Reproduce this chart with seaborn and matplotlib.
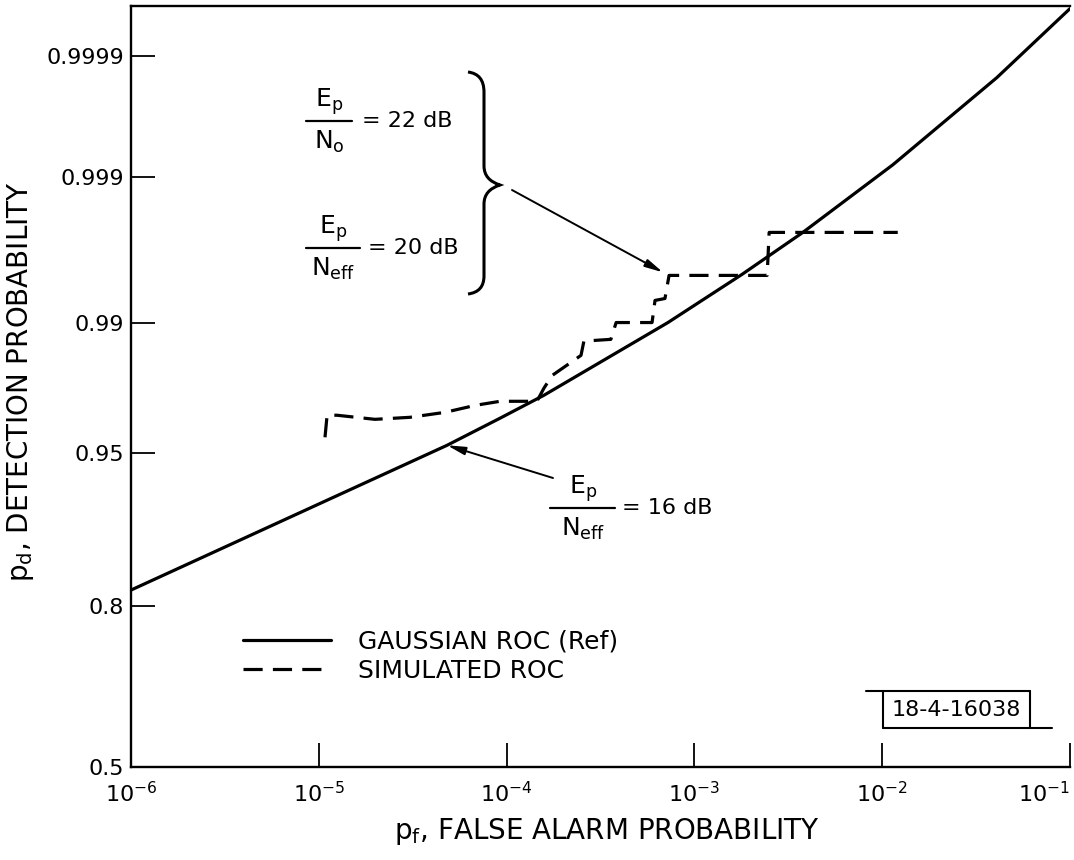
import numpy as np
import pandas as pd
import matplotlib
matplotlib.use("Agg")
import matplotlib.pyplot as plt
import seaborn as sns
from statistics import NormalDist
from matplotlib.path import Path
from matplotlib.patches import PathPatch
from matplotlib.lines import Line2D
from matplotlib.ticker import NullLocator

# ---------------- data ----------------
gauss_pf = [1.0e-6, 1.107e-5, 4.82e-5, 9.2e-5, 1.58e-4, 7.23e-4, 1.79e-3,
            3.78e-3, 1.14e-2, 4.08e-2, 1.0e-1]
gauss_pd = [0.8228, 0.9187, 0.9539, 0.9660, 0.97415, 0.9900, 0.99503,
            0.99743, 0.99919, 0.999846, 0.999964]

sim_pf = [1.079e-5, 1.107e-5, 1.25e-5, 1.99e-5, 3.06e-5, 4.70e-5, 6.79e-5,
          9.23e-5, 1.45e-4, 1.58e-4, 1.75e-4, 2.49e-4, 2.58e-4, 3.59e-4,
          3.83e-4, 5.95e-4, 6.17e-4, 6.97e-4, 7.33e-4, 2.44e-3, 2.50e-3, 1.21e-2]
sim_pd = [0.9578, 0.9672, 0.9672, 0.9656, 0.9664, 0.9683, 0.9708,
          0.9722, 0.9722, 0.9763, 0.9798, 0.9844, 0.9871, 0.9874,
          0.9900, 0.9900, 0.9927, 0.9929, 0.99496, 0.99496, 0.99743, 0.99743]

x_ticks = [1e-6, 1e-5, 1e-4, 1e-3, 1e-2, 1e-1]
x_tick_labels = [r'$10^{-6}$', r'$10^{-5}$', r'$10^{-4}$', r'$10^{-3}$',
                 r'$10^{-2}$', r'$10^{-1}$']
y_ticks = [0.5, 0.8, 0.95, 0.99, 0.999, 0.9999]
y_tick_labels = ['0.5', '0.8', '0.95', '0.99', '0.999', '0.9999']

legend_labels = ['GAUSSIAN ROC (Ref)', 'SIMULATED ROC']
x_label = r'$p_f$, FALSE ALARM PROBABILITY'
y_label = r'$p_d$, DETECTION PROBABILITY'
note_num = r'$E_p$'
note_den_22 = r'$N_o$'
note_den_eff = r'$N_{eff}$'
note_rhs = ['= 22 dB', '= 20 dB', '= 16 dB']
fig_id = '18-4-16038'

# ---------------- normal-probability scale ----------------
_nd = NormalDist()
_ppf = np.vectorize(_nd.inv_cdf, otypes=[float])
_cdf = np.vectorize(_nd.cdf, otypes=[float])


def prob_fwd(p):
    p = np.asarray(p, dtype=float)
    p = np.where(np.isfinite(p), p, 0.5)
    return _ppf(np.clip(p, 1e-12, 1 - 1e-12))


def prob_inv(z):
    z = np.asarray(z, dtype=float)
    z = np.where(np.isfinite(z), z, 0.0)
    return _cdf(z)


# ---------------- figure ----------------
sns.set_theme(style="white")
plt.rcParams['font.family'] = ['DejaVu Sans']
plt.rcParams['mathtext.fontset'] = 'dejavusans'
plt.rcParams['mathtext.default'] = 'regular'

W, H = 1074, 860
fig = plt.figure(figsize=(W / 100, H / 100), dpi=100)
fig.patch.set_facecolor('white')
ax = fig.add_axes([131 / W, 93 / H, 939 / W, 761 / H])
ax.set_facecolor('white')

sns.lineplot(x=gauss_pf, y=gauss_pd, ax=ax, color='black', linewidth=2.3,
             sort=False, estimator=None, label=legend_labels[0])
sns.lineplot(x=sim_pf, y=sim_pd, ax=ax, color='black', linewidth=2.3,
             sort=False, estimator=None, label=legend_labels[1])
ax.lines[1].set_dashes([6, 3.2])

ax.set_xscale('log')
ax.set_yscale('function', functions=(prob_fwd, prob_inv))
ax.set_xlim(1e-6, 1e-1)
ax.set_ylim(0.5, 0.999966)

ax.set_xticks(x_ticks)
ax.set_xticklabels(x_tick_labels)
ax.xaxis.set_minor_locator(NullLocator())
ax.set_yticks(y_ticks)
ax.set_yticklabels(y_tick_labels)
ax.yaxis.set_minor_locator(NullLocator())
ax.tick_params(direction='in', length=17, width=1.3, colors='black',
               labelsize=16, bottom=True, left=True, top=False, right=False)
ax.tick_params(axis='y', pad=5)
ax.tick_params(axis='x', pad=10)
ax.get_xticklabels()[-1].set_horizontalalignment('right')

for side in ['left', 'bottom', 'top']:
    ax.spines[side].set_visible(True)
    ax.spines[side].set_color('black')
    ax.spines[side].set_linewidth(1.7)
ax.spines['right'].set_visible(False)
ax.grid(False)

ax.set_xlabel(x_label, fontsize=20, color='black')
ax.xaxis.set_label_coords(0.507, -0.064)
ax.set_ylabel(y_label, fontsize=20, color='black')
ax.yaxis.set_label_coords(-0.101, 0.507)

leg = ax.legend(loc='center left', bbox_to_anchor=(243 / W, 1 - 656 / H),
                bbox_transform=fig.transFigure, frameon=False, fontsize=18,
                handlelength=3.5, handletextpad=1.1, borderpad=0,
                borderaxespad=0, labelspacing=0.2)
for t in leg.get_texts():
    t.set_color('black')


def fig_xy(px, py):
    return (px / W, 1 - py / H)


def fraction_note(xc, ybar, x0, x1, den, rhs, rhs_x):
    fig.text(*fig_xy(xc, ybar - 4), note_num, ha='center', va='bottom',
             fontsize=18, color='black')
    fig.add_artist(Line2D([x0 / W, x1 / W], [1 - ybar / H, 1 - ybar / H],
                          transform=fig.transFigure, color='black', lw=1.6))
    fig.text(*fig_xy(xc, ybar + 8), den, ha='center', va='top',
             fontsize=18, color='black')
    fig.text(*fig_xy(rhs_x, ybar), rhs, ha='left', va='center',
             fontsize=16, color='black')


fraction_note(329, 121, 306, 352, note_den_22, note_rhs[0], 362)
fraction_note(333, 248, 306, 360, note_den_eff, note_rhs[1], 368)
fraction_note(583, 508, 550, 615, note_den_eff, note_rhs[2], 622)

# brace
bx = [(468, 72), (484, 74), (484, 92), (484, 166), (484, 180), (500, 185),
      (484, 190), (484, 204), (484, 276), (484, 292), (468, 294)]
codes = [Path.MOVETO, Path.CURVE3, Path.CURVE3, Path.LINETO, Path.CURVE3,
         Path.CURVE3, Path.CURVE3, Path.CURVE3, Path.LINETO, Path.CURVE3,
         Path.CURVE3]
brace = PathPatch(Path([fig_xy(*p) for p in bx], codes), transform=fig.transFigure,
                  fill=False, edgecolor='black', lw=2.2)
fig.add_artist(brace)

# arrows
arrow_kw = dict(arrowstyle='-|>,head_length=0.9,head_width=0.2', color='black',
                lw=1.4, shrinkA=0, shrinkB=0)
ax.annotate('', xy=(6.8e-4, 0.99519), xycoords='data',
            xytext=(512, H - 190), textcoords='figure pixels', arrowprops=arrow_kw)
ax.annotate('', xy=(4.82e-5, 0.9539), xycoords='data',
            xytext=(553, H - 478), textcoords='figure pixels', arrowprops=arrow_kw)

# figure id box
fig.text(*fig_xy(956, 710), fig_id, ha='center', va='center', fontsize=16, color='black')
box_lines = [([866, 1030], [691, 691]), ([883, 1052], [728, 728]),
             ([883, 883], [691, 728]), ([1030, 1030], [691, 728])]
for xs, ys in box_lines:
    fig.add_artist(Line2D([x / W for x in xs], [1 - y / H for y in ys],
                          transform=fig.transFigure, color='black', lw=1.5))

fig.savefig('out.png', dpi=100, facecolor='white')
